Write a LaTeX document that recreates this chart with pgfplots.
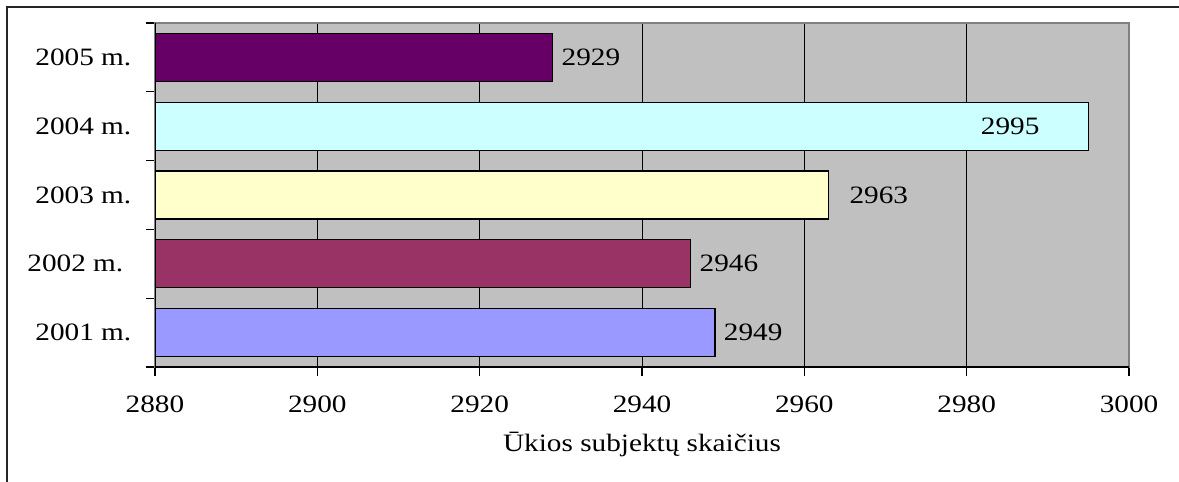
\documentclass[border=0pt]{standalone}
\usepackage{fontspec}
\setmainfont{Liberation Serif}[FakeStretch=1.17]
\usepackage{pgfplots}
\pgfplotsset{compat=1.18}
\definecolor{bggray}{HTML}{C0C0C0}
\definecolor{cA}{HTML}{9999FF}
\definecolor{cB}{HTML}{993366}
\definecolor{cC}{HTML}{FFFFCC}
\definecolor{cD}{HTML}{CCFFFF}
\definecolor{cE}{HTML}{660066}
\begin{document}
\fontsize{12.5pt}{14pt}\selectfont
\begin{tikzpicture}
\useasboundingbox (0,0) rectangle (589.5pt,-241pt);
\draw[line width=1pt, color=black!85] (3.5pt,-241pt) -- (3.5pt,-3.5pt) -- (589.5pt,-3.5pt);
\begin{axis}[
  at={(77.5pt,-183.5pt)}, anchor=south west,
  scale only axis, width=487pt, height=172pt,
  xbar,
  xmin=2880, xmax=3000, ymin=0.5, ymax=5.5,
  xtick={2880,2900,...,3000},
  ytick={0.5,1.5,...,5.5}, yticklabels={},
  extra y ticks={1,2,3,4,5},
  extra y tick labels={2001 m.,2002 m.\kern4pt,2003 m.,2004 m.,2005 m.},
  extra y tick style={major tick length=0pt, ymajorgrids=false},
  tick pos=left,
  tick align=outside, major tick length=4.5pt,
  tick style={black, line width=0.6pt},
  xmajorgrids, major grid style={black, line width=0.5pt},
  axis background/.style={fill=bggray},
  axis line style={draw=gray, line width=1pt},
  xlabel={Ūkios subjektų skaičius},
  xlabel style={yshift=-1pt},
  label style={font=\fontsize{12.5pt}{14pt}\selectfont},
  ticklabel style={font=\fontsize{12.5pt}{14pt}\selectfont},
  yticklabel style={xshift=-7.5pt},
  xticklabel style={yshift=-5.5pt},
  /pgf/number format/assume math mode=true,
  /pgf/number format/1000 sep={},
  point meta=x,
  nodes near coords,
  nodes near coords align={horizontal},
  every node near coord/.append style={font=\fontsize{12.5pt}{14pt}\selectfont, black},
]
\addplot[draw=black, line width=0.6pt, fill=cA, bar width=24pt, bar shift=0pt] coordinates {(2949,1)};
\addplot[draw=black, line width=0.6pt, fill=cB, bar width=24pt, bar shift=0pt] coordinates {(2946,2)};
\addplot[draw=black, line width=0.6pt, fill=cC, bar width=24pt, bar shift=0pt,
  every node near coord/.append style={xshift=6pt}] coordinates {(2963,3)};
\addplot[draw=black, line width=0.6pt, fill=cD, bar width=24pt, bar shift=0pt,
  every node near coord/.append style={anchor=east, xshift=-20pt}] coordinates {(2995,4)};
\addplot[draw=black, line width=0.6pt, fill=cE, bar width=24pt, bar shift=0pt] coordinates {(2929,5)};
\draw[black, line width=1pt] (rel axis cs:0,1) -- (rel axis cs:0,0) -- (rel axis cs:1,0);
\end{axis}
\end{tikzpicture}
\end{document}
